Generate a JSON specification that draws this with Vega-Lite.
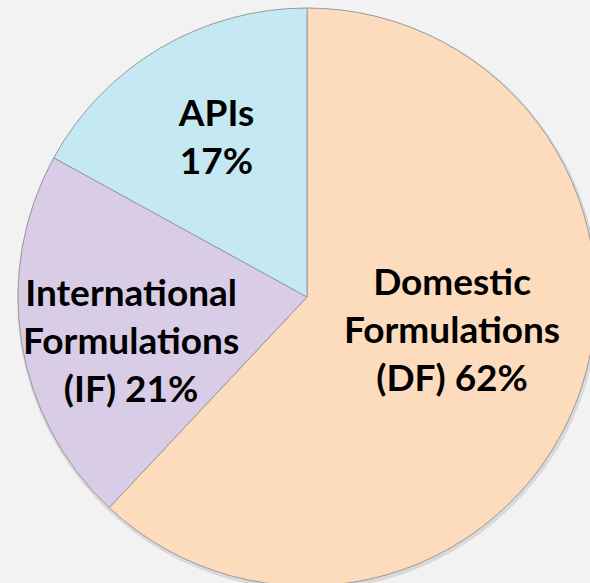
{
  "$schema": "https://vega.github.io/schema/vega-lite/v6.json",
  "width": 590,
  "height": 583,
  "autosize": "none",
  "padding": 0,
  "background": "#F2F2F2",
  "config": {"view": {"stroke": null}},
  "data": {
    "values": [
      {"segment": "Domestic Formulations (DF)", "share": 62, "order": 1, "label": "Domestic|Formulations|(DF) 62%"},
      {"segment": "International Formulations (IF)", "share": 21, "order": 2, "label": "International|Formulations|(IF) 21%"},
      {"segment": "APIs", "share": 17, "order": 3, "label": "APIs|17%"}
    ]
  },
  "encoding": {
    "theta": {"field": "share", "type": "quantitative", "stack": true},
    "order": {"field": "order", "type": "quantitative"}
  },
  "layer": [
    {
      "mark": {
        "type": "arc",
        "outerRadius": 291,
        "x": {"expr": "width/2 + 13"},
        "y": {"expr": "height/2 + 7.5"},
        "color": "#d9d9d9",
        "strokeWidth": 0
      }
    },
    {
      "mark": {
        "type": "arc",
        "outerRadius": 289,
        "x": {"expr": "width/2 + 12"},
        "y": {"expr": "height/2 + 5.5"},
        "stroke": "#9a9a9a",
        "strokeWidth": 1
      },
      "encoding": {
        "color": {
          "field": "segment",
          "type": "nominal",
          "scale": {
            "domain": ["Domestic Formulations (DF)", "International Formulations (IF)", "APIs"],
            "range": ["#FDDCBD", "#D9CCE6", "#C5E9F3"]
          },
          "legend": null
        }
      }
    },
    {
      "mark": {
        "type": "text",
        "radius": 170,
        "x": {"expr": "width/2 + 12"},
        "y": {"expr": "height/2 + 5.5"},
        "font": "Lato",
        "fontWeight": "bold",
        "fontSize": 37,
        "lineHeight": 48,
        "lineBreak": "|",
        "align": "center",
        "baseline": "middle",
        "color": "#000000",
        "dx": {"expr": "datum.order == 1 ? -13 : datum.order == 2 ? -8 : -4"},
        "dy": {"expr": "datum.order == 1 ? -76 : datum.order == 2 ? -29 : -36"}
      },
      "encoding": {
        "text": {"field": "label", "type": "nominal"}
      }
    }
  ]
}
